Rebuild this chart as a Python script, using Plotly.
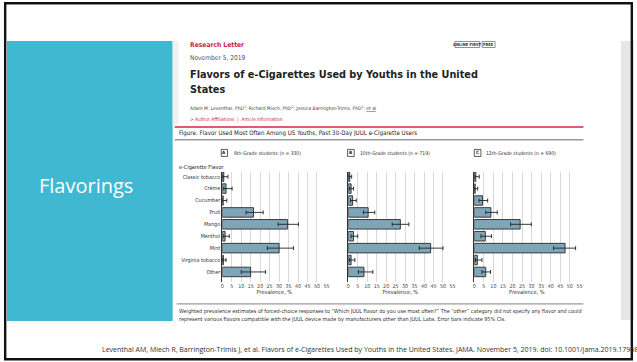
import plotly.graph_objects as go

W, H = 637, 362

flavors = ["Classic tobacco", "Crème", "Cucumber", "Fruit", "Mango", "Menthol",
           "Mint", "Virginia tobacco", "Other"]

grade8_prev = [0.8, 2.0, 0.5, 16.5, 34.5, 1.5, 30.0, 0.6, 15.0]
grade8_lo = [0.2, 0.8, 0.1, 12.6, 29.5, 0.5, 23.8, 0.1, 10.0]
grade8_hi = [3.0, 5.2, 2.4, 21.6, 40.2, 3.7, 37.6, 2.0, 22.8]

grade10_prev = [0.8, 1.5, 2.3, 10.5, 27.5, 2.8, 43.5, 1.5, 8.3]
grade10_lo = [0.3, 0.7, 1.2, 8.0, 23.2, 1.5, 37.5, 0.6, 5.3]
grade10_hi = [1.8, 2.8, 4.2, 14.0, 32.0, 5.0, 50.0, 3.5, 13.0]

grade12_prev = [0.8, 0.5, 4.3, 8.7, 24.0, 5.8, 47.5, 1.6, 6.0]
grade12_lo = [0.3, 0.1, 2.5, 6.0, 19.0, 3.5, 41.5, 0.6, 4.0]
grade12_hi = [2.6, 1.8, 7.0, 12.0, 29.8, 9.0, 53.0, 4.0, 8.5]

panel_letters = ["A", "B", "C"]
panel_titles = ["8th-Grade students (n = 330)", "10th-Grade students (n = 719)",
                "12th-Grade students (n = 690)"]
x_ticks = [0, 5, 10, 15, 20, 25, 30, 35, 40, 45, 50, 55]

NARROW = "Liberation Sans Narrow, DejaVu Sans Condensed, Arial Narrow, sans-serif"
SLIDE = "Open Sans, Noto Sans, sans-serif"


def fx(x):
    return x / W


def fy(y):
    return 1 - y / H


fig = go.Figure()

series = [(grade8_prev, grade8_lo, grade8_hi),
          (grade10_prev, grade10_lo, grade10_hi),
          (grade12_prev, grade12_lo, grade12_hi)]
panel_px = [(222, 327), (349, 454), (476, 582)]
plot_top, plot_bot = 171.7, 281.7

for i, (prev, lo, hi) in enumerate(series):
    sfx = "" if i == 0 else str(i + 1)
    fig.add_trace(go.Bar(
        x=prev, y=flavors, orientation="h",
        xaxis="x" + sfx, yaxis="y" + sfx,
        width=0.8,
        marker=dict(color="#7FA6B8", line=dict(color="#2b2b2b", width=0.9)),
        error_x=dict(type="data", symmetric=False,
                     array=[h - p for h, p in zip(hi, prev)],
                     arrayminus=[p - l for p, l in zip(prev, lo)],
                     color="#222222", thickness=0.9, width=2),
        showlegend=False, hoverinfo="skip",
    ))

layout = dict(
    width=W, height=H,
    margin=dict(l=0, r=0, t=0, b=0),
    paper_bgcolor="white", plot_bgcolor="rgba(0,0,0,0)",
    bargap=0.2,
)

for i in range(3):
    sfx = "" if i == 0 else str(i + 1)
    x0, x1 = panel_px[i]
    layout["xaxis" + sfx] = dict(
        domain=[fx(x0), fx(x1)], range=[0, 55], anchor="y" + sfx,
        tickvals=x_ticks, ticktext=[str(t) for t in x_ticks],
        showgrid=True, gridcolor="#D9D9D9", gridwidth=1,
        zeroline=False, showline=False,
        ticks="", tickfont=dict(family=NARROW, size=5.3, color="#444"),
        title=dict(text="Prevalence, %", font=dict(family=NARROW, size=5.6, color="#333"),
                   standoff=2),
        fixedrange=True,
    )
    layout["yaxis" + sfx] = dict(
        domain=[fy(plot_bot), fy(plot_top)], anchor="x" + sfx,
        type="category", categoryorder="array", categoryarray=flavors,
        range=[8.82, -0.42],
        showgrid=False, zeroline=False,
        showline=True, linecolor="#333", linewidth=1,
        ticks="", showticklabels=(i == 0),
        tickfont=dict(family=NARROW, size=5.4, color="#333"),
        fixedrange=True,
    )

fig.update_layout(**layout)

shapes = []
ann = []


def rect(x0, y0, x1, y1, fill=None, line=None, lw=0, layer="below"):
    shapes.append(dict(type="rect", xref="paper", yref="paper",
                       x0=fx(x0), x1=fx(x1), y0=fy(y1), y1=fy(y0),
                       fillcolor=fill if fill else "rgba(0,0,0,0)",
                       line=dict(color=line if line else "rgba(0,0,0,0)", width=lw),
                       layer=layer))


def hline(x0, x1, y, color, lw):
    shapes.append(dict(type="line", xref="paper", yref="paper",
                       x0=fx(x0), x1=fx(x1), y0=fy(y), y1=fy(y),
                       line=dict(color=color, width=lw), layer="below"))


def text(x, y, s, size, color="#333", family=NARROW, xanchor="left", bold=False):
    if bold:
        s = "<b>" + s + "</b>"
    ann.append(dict(x=fx(x), y=fy(y), xref="paper", yref="paper", text=s,
                    showarrow=False, xanchor=xanchor, yanchor="middle",
                    font=dict(size=size, color=color, family=family)))


# slide panels
rect(5, 41, 172, 321, fill="#41B8D1")
rect(172, 41, 178, 125, fill="#F0F0F0")
rect(624, 41, 637, 320, fill="#E6E6E6")
text(85, 185, "Flavorings", 20, color="white", family=SLIDE, xanchor="center")

# article header
text(187, 44.5, "Research Letter", 6.7, color="#D0253A", bold=True)
text(187, 58, "November 5, 2019", 6.6, color="#555")
text(187, 74, "Flavors of e-Cigarettes Used by Youths in the United", 10.8, color="#222", bold=True)
text(187, 89, "States", 10.8, color="#222", bold=True)
text(187, 108, "Adam M. Leventhal, PhD<sup>1</sup>; Richard Miech, PhD<sup>2</sup>; "
     "Jessica Barrington-Trimis, PhD<sup>1</sup>; <u>et al</u>", 4.9, color="#444")
text(187, 119, "&gt; Author Affiliations  |  Article Information", 4.9, color="#D0253A")

# badges
rect(456.5, 41.5, 481.5, 47.5, line="#777", lw=0.8)
text(469, 44.5, "ONLINE FIRST", 4, color="#333", xanchor="center", bold=True)
rect(484, 41.5, 497, 47.5, line="#777", lw=0.8)
text(490.5, 44.5, "FREE", 4, color="#333", xanchor="center", bold=True)

# figure frame lines
hline(174, 586, 127, "#D9233B", 1.5)
text(176, 133.3, "Figure. Flavor Used Most Often Among US Youths, Past 30-Day JUUL e-Cigarette Users",
     6.2, color="#222")
hline(174, 586, 139.8, "#9A9A9A", 1.5)

# panel headers
boxes = [(221, 227.3, 231.7), (348.3, 355, 359.3), (476, 482.7, 486)]
for (bx0, bx1, tx), letter, title in zip(boxes, panel_letters, panel_titles):
    rect(bx0, 149.4, bx1, 156.4, line="#333", lw=0.8)
    text((bx0 + bx1) / 2, 152.9, letter, 4.6, color="#222", xanchor="center", bold=True)
    text(tx, 152.9, title, 5.0, color="#333")

text(176, 167, "e-Cigarette Flavor", 5.5, color="#222")

# footnote
hline(176, 586, 303.8, "#9A9A9A", 1.2)
text(176, 311.5, "Weighted prevalence estimates of forced-choice responses to \u201cWhich JUUL flavor do you use most often?\u201d "
     "The \u201cother\u201d category did not specify any flavor and could", 5.45, color="#333")
text(176, 319, "represent various flavors compatible with the JUUL device made by manufacturers other than JUUL Labs. "
     "Error bars indicate 95% CIs.", 5.45, color="#333")

# citation
text(99, 349.5, "Leventhal AM, Miech R, Barrington-Trimis J, et al. Flavors of e-Cigarettes Used by Youths in the "
     "United States. JAMA. November 5, 2019. doi: 10.1001/jama.2019.17968", 7.0, color="#333", family=SLIDE)

# slide border
rect(3.2, 3.2, 634.8, 359.3, line="#111", lw=2.4, layer="above")

fig.update_layout(shapes=shapes, annotations=ann)
fig.write_html("out.html")
